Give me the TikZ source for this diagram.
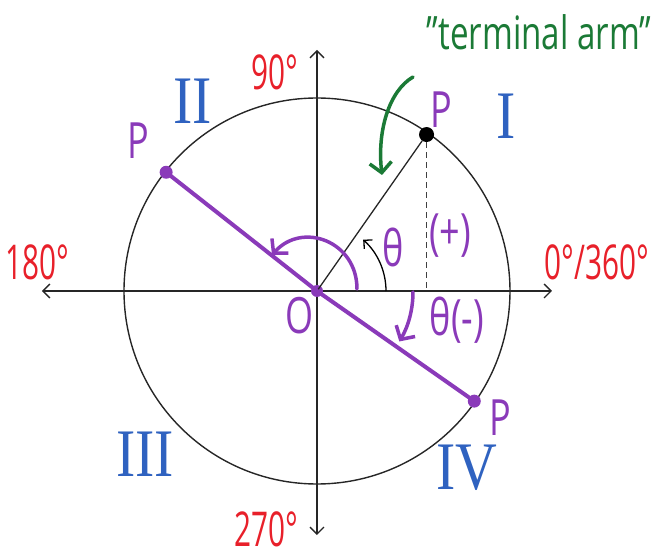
\documentclass[tikz,border=0pt]{standalone}
\usepackage{fontspec}
\setmainfont[FakeStretch=0.72]{Open Sans}
\newfontfamily\narrowfont[FakeStretch=0.62]{Open Sans}
\newfontfamily\romanfont[FakeStretch=0.85]{Liberation Serif}
\usetikzlibrary{
    positioning,
    calc,
    arrows.meta
}
\definecolor{PurpleArm}{HTML}{8A3AB9}
\definecolor{RedDegree}{HTML}{E8202A}
\definecolor{BlueQuadrant}{HTML}{2F62C0}
\definecolor{GreenNote}{HTML}{1B7A36}

\tikzset{
    axisline/.style={
        line width=1.3pt,
        draw=black!85,
        -{Straight Barb[length=7pt,width=14pt]}
    },
    armline/.style={
        line width=4pt,
        draw=PurpleArm,
        line cap=round
    },
    ptlabel/.style={
        text=PurpleArm,
        inner sep=0pt,
        font=\fontsize{50}{50}\selectfont
    },
    deglabel/.style={
        text=RedDegree,
        inner sep=0pt,
        font=\narrowfont\fontsize{48}{48}\selectfont
    },
    quadlabel/.style={
        text=BlueQuadrant,
        inner sep=0pt,
        font=\romanfont\fontsize{68}{68}\selectfont
    },
    purpledot/.style={
        circle,
        fill=PurpleArm,
        inner sep=0pt,
        minimum size=13pt
    }
}

\begin{document}
\begin{tikzpicture}[x=1pt,y=1pt]

    \useasboundingbox (-317,-266) rectangle (340,291);

    \coordinate (O) at (0,0);
    \coordinate (XLeft) at (-275,0);
    \coordinate (XRight) at (235,0);
    \coordinate (YTop) at (0,241);
    \coordinate (YBottom) at (0,-244);

    \draw[line width=1.4pt, draw=black!85] (O) circle[radius=193];
    \draw[axisline] (O) -- (XLeft);
    \draw[axisline] (O) -- (XRight);
    \draw[axisline] (O) -- (YTop);
    \draw[axisline] (O) -- (YBottom);

    \node[circle, fill=black, inner sep=0pt, minimum size=15pt] (PI) at (55:191) {};
    \node[purpledot] (PII) at (141.8:192) {};
    \node[purpledot] (PIV) at (-35:192) {};
    \node[purpledot, minimum size=12pt] (ODot) at (O) {};

    \draw[line width=1.3pt, draw=black!85] (O) -- (PI);
    \draw[line width=1.3pt, draw=black!75, dash pattern=on 6pt off 4pt] (PI) -- (PI |- O);

    \draw[armline] (PII.center) -- (ODot.center) -- (PIV.center);

    % angle arrows
    \draw[line width=1.3pt, -{Straight Barb[length=6pt,width=12pt]}]
        (69,0) arc[start angle=0, end angle=48, radius=69];
    \draw[line width=3.5pt, draw=PurpleArm, line cap=round,
          -{Straight Barb[length=10pt,width=22pt]}]
        (40,2) .. controls (40,50) and (-15,70) .. (-45,36);
    \draw[line width=3.5pt, draw=PurpleArm, line cap=round,
          -{Straight Barb[length=10pt,width=22pt]}]
        (96,-1) arc[start angle=0, end angle=-31, radius=96];

    \node[ptlabel] (LabelPI) at (124,181) {P};
    \node[ptlabel] (LabelPII) at (-179,150) {P};
    \node[ptlabel] (LabelPIV) at (183,-127) {P};
    \node[ptlabel] (LabelO) at (-17,-25) {O};
    \node[ptlabel] (ThetaPos) at (76,44) {θ};
    \node[ptlabel] (SignPos) at (133,55) {(+)};
    \node[ptlabel] (ThetaNeg) at (140,-29) {θ(-)};

    \node[deglabel] (Deg90) at (-42,219) {90°};
    \node[deglabel] (Deg180) at (-280,29) {180°};
    \node[deglabel] (Deg270) at (-51,-238) {270°};
    \node[deglabel] (Deg0) at (280,29) {0°/360°};

    \node[quadlabel] (QuadI) at (189,175) {I};
    \node[quadlabel] (QuadII) at (-124,190) {II};
    \node[quadlabel] (QuadIII) at (-172,-163) {III};
    \node[quadlabel] (QuadIV) at (150,-177) {IV};

    \node[text=GreenNote, inner sep=0pt, font=\fontsize{46}{46}\selectfont] (Note) at (222,259) {"terminal arm"};
    \coordinate (NoteStart) at (96,214);
    \draw[line width=3.5pt, draw=GreenNote, line cap=round,
          -{Straight Barb[length=10pt,width=22pt]}]
        (NoteStart) .. controls (72,200) and (60,160) .. (65,116);

\end{tikzpicture}
\end{document}
